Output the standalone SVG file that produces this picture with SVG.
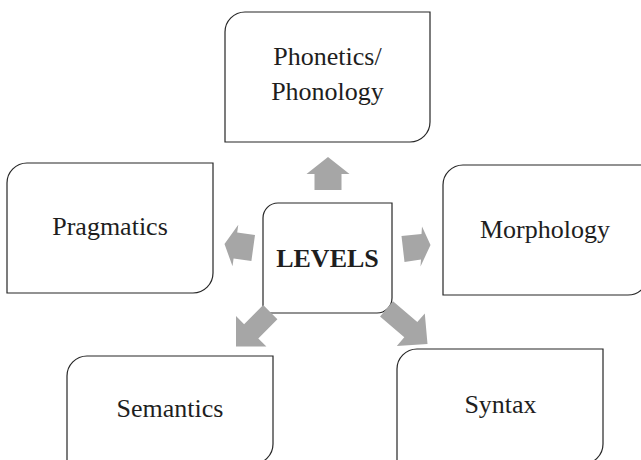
<svg xmlns="http://www.w3.org/2000/svg" width="641" height="460" viewBox="0 0 641 460">
  <style>
    .box { fill: #ffffff; stroke: #262626; stroke-width: 1.2; }
    .lbl { font-family: "Liberation Serif", "Times New Roman", serif; font-size: 26px; fill: #1e1e1e; text-anchor: middle; }
    .hub { font-weight: bold; }
    .arrow { fill: #a6a6a6; stroke: none; }
  </style>
  <rect width="641" height="460" fill="#ffffff"/>

  <!-- Boxes with rounded top-left and bottom-right corners -->
  <g id="phonetics">
    <path class="box" d="M245,12 H430 V122 A20,20 0 0 1 410,142 H225 V32 A20,20 0 0 1 245,12 Z"/>
    <text class="lbl" x="327.5" y="65">Phonetics/</text>
    <text class="lbl" x="327.5" y="100">Phonology</text>
  </g>

  <g id="pragmatics">
    <path class="box" d="M27,163 H213 V273 A20,20 0 0 1 193,293 H7 V183 A20,20 0 0 1 27,163 Z"/>
    <text class="lbl" x="110" y="235">Pragmatics</text>
  </g>

  <g id="morphology">
    <path class="box" d="M463,165 H648 V275 A20,20 0 0 1 628,295 H443 V185 A20,20 0 0 1 463,165 Z"/>
    <text class="lbl" x="545" y="238">Morphology</text>
  </g>

  <g id="semantics">
    <path class="box" d="M87,356 H273 V444 A20,20 0 0 1 253,464 H67 V376 A20,20 0 0 1 87,356 Z"/>
    <text class="lbl" x="170" y="417">Semantics</text>
  </g>

  <g id="syntax">
    <path class="box" d="M417,349 H603 V444 A20,20 0 0 1 583,464 H397 V369 A20,20 0 0 1 417,349 Z"/>
    <text class="lbl" x="500.5" y="413">Syntax</text>
  </g>

  <g id="levels">
    <path class="box" d="M278,203 H392 V298 A15,15 0 0 1 377,313 H263 V218 A15,15 0 0 1 278,203 Z"/>
    <text class="lbl hub" x="327.5" y="267">LEVELS</text>
  </g>

  <!-- Block arrows radiating from the centre box -->
  <g id="connectors">
    <polygon class="arrow" points="328,157 349.5,174 341.5,174 341.5,190 314.5,190 314.5,174 306.5,174"/>
    <polygon class="arrow" points="224.5,244 238.3,224.7 237.2,232.6 255,235.1 251.4,260.9 233.6,258.4 232.5,266.3"/>
    <polygon class="arrow" points="430.5,245 422,226.5 421.5,234 401.5,236 404.5,262 421,259.5 420.5,266.5"/>
    <polygon class="arrow" points="236,346.5 266.4,346.5 258.3,338.4 277.4,319.3 263.2,305.1 244.1,324.2 236,316.1"/>
    <polygon class="arrow" points="427.5,344 396.8,346 404.3,337.3 380,316.5 393,301.3 417.3,322.1 424.8,313.4"/>
  </g>
</svg>
